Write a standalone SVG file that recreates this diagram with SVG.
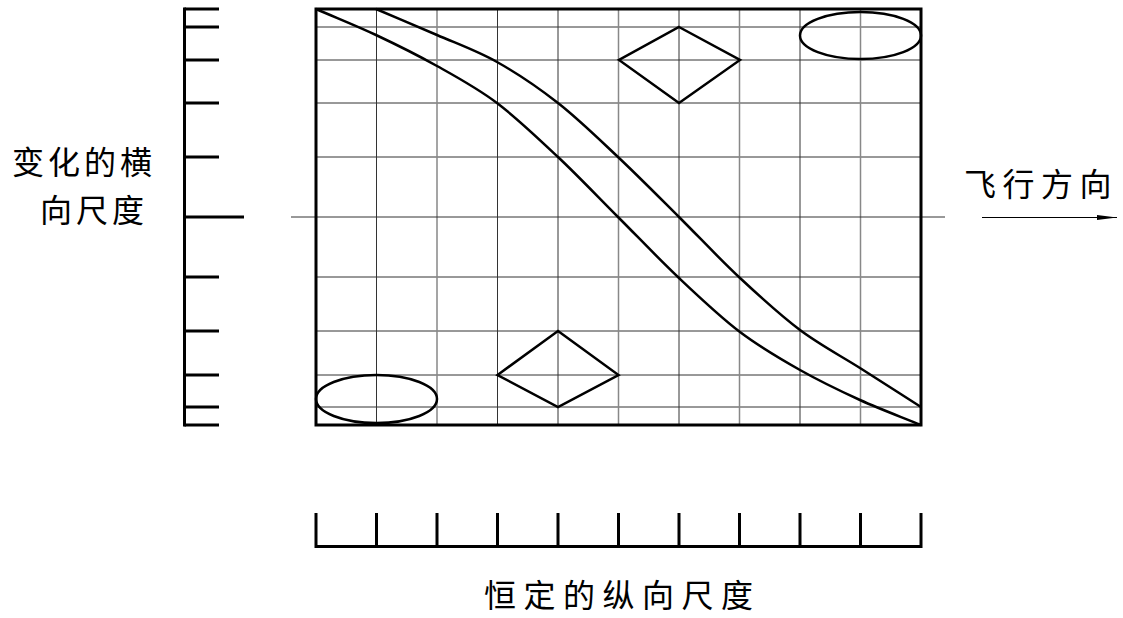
<svg xmlns="http://www.w3.org/2000/svg" width="1123" height="618" viewBox="0 0 1123 618">
<style>
.grid{stroke:#333;stroke-width:1;fill:none}
.gridl{stroke:#888;stroke-width:1.5;fill:none}
.thick{stroke:#000;stroke-width:3;fill:none}
.shape{stroke:#000;stroke-width:2.5;fill:none;stroke-linejoin:miter}
.lbl{font-family:"Noto Sans CJK SC","Noto Sans CJK TC",sans-serif;font-size:32px;fill:#000;letter-spacing:4px}
</style>
<defs>
<marker id="arr" viewBox="0 0 20 6" refX="20" refY="3" markerWidth="20" markerHeight="6" markerUnits="userSpaceOnUse" orient="auto">
<path d="M0,0.5 L20,3 L0,5.5 Z" fill="#000"/>
</marker>
</defs>
<rect width="1123" height="618" fill="#fff"/>
<g id="grid">
<path class="grid" d="M316,27H921M316,60H921M316,103H921M316,157H921M316,277H921M316,331H921M316,375H921M316,407H921"/>
<path class="grid" d="M376.5,9V425M497.5,9V425M558,9V425M679,9V425M800,9V425"/>
<path class="gridl" d="M437,9V425M618.5,9V425M739.5,9V425M860.5,9V425"/>
<path class="grid" d="M291,217H945"/>
</g>
<g id="left-scale">
<path class="thick" d="M184.5,7.5V426.5"/>
<path class="thick" d="M184.5,9H219M184.5,27H219M184.5,60H219M184.5,103H219M184.5,157H219M184.5,217H244M184.5,277H219M184.5,331H219M184.5,375H219M184.5,407H219M184.5,425H219"/>
</g>
<g id="bottom-scale">
<path class="thick" d="M316,513V547M376.5,513V547M437,513V547M497.5,513V547M558,513V547M618.5,513V547M679,513V547M739.5,513V547M800,513V547M860.5,513V547M921,513V547M314.5,546.5H922.5"/>
</g>
<g id="frame">
<rect class="thick" x="316" y="9" width="605" height="416"/>
</g>
<g id="curve-a">
<path class="shape" d="M316,9 C336,17.7 355.8,25.5 376,35 C396.2,44.5 416.8,54.7 437,66 C457.2,77.3 476.8,87.8 497,103 C517.2,118.2 537.8,138 558,157 C578.2,176 597.8,196.8 618,217 C638.2,237.2 658.7,258.8 679,278 C699.3,297.2 719.8,316.7 740,332 C760.2,347.3 780,358.7 800,370 C820,381.3 839.8,390.8 860,400 C880.2,409.2 900.7,416.7 921,425"/>
</g>
<g id="curve-b">
<path class="shape" d="M376,9 C396.3,17.7 416.8,26.2 437,35 C457.2,43.8 476.8,50.7 497,62 C517.2,73.3 537.8,87.2 558,103 C578.2,118.8 597.8,138 618,157 C638.2,176 658.7,196.8 679,217 C699.3,237.2 719.8,259.2 740,278 C760.2,296.8 780,315 800,330 C820,345 839.8,355.2 860,368 C880.2,380.8 900.7,394 921,407"/>
</g>
<g id="diamond-top">
<polygon class="shape" points="679,27 740,60 679,103 619,60"/>
</g>
<g id="diamond-bottom">
<polygon class="shape" points="558,331 618.5,375 558,407 497.5,375"/>
</g>
<g id="ellipse-top">
<ellipse class="shape" cx="860.5" cy="35.5" rx="60.5" ry="23.5"/>
</g>
<g id="ellipse-bottom">
<ellipse class="shape" cx="376.5" cy="399" rx="60.5" ry="24"/>
</g>
<g id="connectors">
<line x1="982" y1="217.5" x2="1117" y2="217.5" stroke="#000" stroke-width="1.2" marker-end="url(#arr)"/>
</g>
<g id="labels">
<text class="lbl" x="12" y="174">变化的横</text>
<text class="lbl" x="40" y="222">向尺度</text>
<text class="lbl" x="964" y="196" style="letter-spacing:6.5px">飞行方向</text>
<text class="lbl" x="484" y="607" style="letter-spacing:7.5px">恒定的纵向尺度</text>
</g>
</svg>
